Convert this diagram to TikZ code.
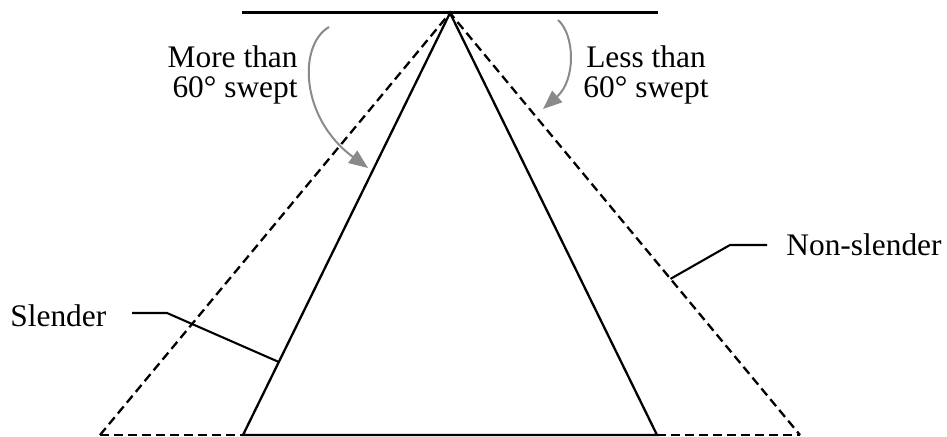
\documentclass[tikz,border=0pt]{standalone}
\usepackage{fontspec}
\setmainfont{Liberation Serif}
\usetikzlibrary{positioning,arrows.meta,calc}
\definecolor{InkBlack}{HTML}{000000}
\definecolor{SweepGray}{HTML}{8A8A8A}
\tikzset{
  every node/.style     = {font=\fontsize{15.7}{15}\selectfont, inner sep=0pt},
  wing_slender/.style   = {line width=1.15pt, draw=InkBlack, line join=miter},
  wing_nonslender/.style= {wing_slender, dash pattern=on 4.5pt off 2.5pt},
  ref_line/.style       = {line width=1.5pt, draw=InkBlack},
  leader/.style         = {line width=1.05pt, draw=InkBlack},
  sweep_arrow/.style    = {draw=SweepGray, line width=1pt,
                           -{Triangle[length=9.5pt, width=7.5pt]}},
}
\def\ApexX{450}
\def\ApexY{13}
\def\BaseY{435}

\begin{document}
\begin{tikzpicture}[x=0.5pt, y=-0.5pt]
\useasboundingbox (0,0) rectangle (947,437);

% =========================================================================
% Corner points
% =========================================================================
\coordinate (A)   at (\ApexX, \ApexY);       % apex
\coordinate (SL)  at (243, \BaseY);          % slender, left
\coordinate (SR)  at (657, \BaseY);          % slender, right
\coordinate (NL)  at (100, \BaseY);          % non-slender, left
\coordinate (NR)  at (800, \BaseY);          % non-slender, right
\coordinate (RL)  at (242, \ApexY);          % reference line
\coordinate (RR)  at (658, \ApexY);

% =========================================================================
% Wings
% =========================================================================
\draw[ref_line] (RL) -- (RR);

\draw[wing_nonslender] (NL) -- (A) -- (NR);
\draw[wing_nonslender] (NL) -- (SL);
\draw[wing_nonslender] (SR) -- (NR);

\draw[wing_slender] (SL) -- (A) -- (SR) -- cycle;

% =========================================================================
% Labels and leaders
% =========================================================================
\node[anchor=base west] (slender)    at (10, 327)  {Slender};
\node[anchor=base west] (nonslender) at (786, 256) {Non-slender};

\coordinate (sl1) at (132, 313);
\coordinate (sl2) at (167, 313);
\coordinate (sl3) at ($(SL)!0.173!(A)$);
\draw[leader] (sl1) -- (sl2) -- (sl3);

\coordinate (ns1) at (767, 245);
\coordinate (ns2) at (730, 245);
\coordinate (ns3) at ($(NR)!0.37!(A)$);
\draw[leader] (ns1) -- (ns2) -- (ns3);

% =========================================================================
% Sweep annotations
% =========================================================================
\node[anchor=east, align=right] (more) at (298, 75) {More than\\60° swept};
\node[align=center]             (less) at (646, 75) {Less than\\60° swept};

\coordinate (mo1) at (329, 27);
\coordinate (mo2) at (368, 168);
\draw[sweep_arrow] (mo1) .. controls (298, 45) and (300, 118) .. (mo2);

\coordinate (le1) at (558, 20);
\coordinate (le2) at (543, 109);
\draw[sweep_arrow] (le1) .. controls (575, 35) and (576, 80) .. (le2);

\end{tikzpicture}
\end{document}
